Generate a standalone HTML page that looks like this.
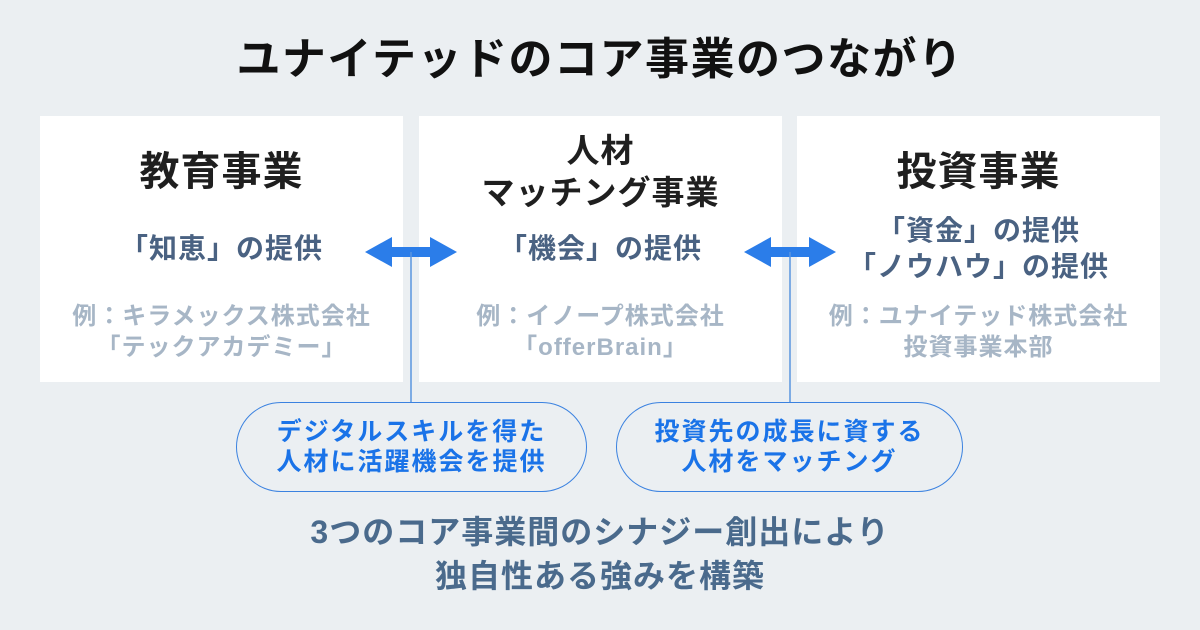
<!DOCTYPE html>
<html><head><meta charset="utf-8"><style>
*{margin:0;padding:0;box-sizing:border-box}
body{width:1200px;height:630px;background:#ebeff2;position:relative;overflow:hidden;font-family:"Liberation Sans","Noto Sans CJK JP",sans-serif;font-weight:bold}
.a{position:absolute;text-align:center}
.box{position:absolute;top:116px;height:266px;background:#fff}
.h{color:#1f1f1f;font-size:40px;line-height:44px;letter-spacing:1px}
.s{color:#4a6282;font-size:28px;line-height:36px;letter-spacing:1px}
.g{color:#a7b6c6;font-size:24px;line-height:31px;letter-spacing:1px}
.pill{position:absolute;top:402px;height:90px;border:1.5px solid #3b82e0;border-radius:45px;color:#1a73e8;font-size:25px;line-height:30px;letter-spacing:2px;text-align:center;padding-top:14px}
</style></head><body>
<div class="a" style="left:0;width:1200px;top:33px;font-size:44px;line-height:54px;letter-spacing:1.5px;color:#111">ユナイテッドのコア事業のつながり</div>
<div class="box" style="left:40px;width:363px"></div>
<div class="box" style="left:419px;width:363px"></div>
<div class="box" style="left:797px;width:363px"></div>

<div class="a h" style="left:40px;width:363px;top:150px">教育事業</div>
<div class="a s" style="left:40px;width:363px;top:231px">「知恵」の提供</div>
<div class="a g" style="left:40px;width:363px;top:301px">例：キラメックス株式会社<br>「テックアカデミー」</div>

<div class="a h" style="left:419px;width:363px;top:130px;font-size:33px;line-height:42px">人材<br>マッチング事業</div>
<div class="a s" style="left:419px;width:363px;top:231px">「機会」の提供</div>
<div class="a g" style="left:419px;width:363px;top:301px">例：イノープ株式会社<br>「offerBrain」</div>

<div class="a h" style="left:797px;width:363px;top:150px">投資事業</div>
<div class="a s" style="left:797px;width:363px;top:213px">「資金」の提供<br>「ノウハウ」の提供</div>
<div class="a g" style="left:797px;width:363px;top:301px">例：ユナイテッド株式会社<br>投資事業本部</div>

<svg class="a" style="left:0;top:0" width="1200" height="630">
<g fill="#2b7de9">
<polygon points="365,252 392,237 392,247 430,247 430,237 457,252 430,267 430,257 392,257 392,267"/>
<polygon points="744,252 771,237 771,247 809,247 809,237 836,252 809,267 809,257 771,257 771,267"/>
</g>
<line x1="411" y1="252" x2="411" y2="403" stroke="#5b95e0" stroke-width="1.5"/>
<line x1="790" y1="252" x2="790" y2="403" stroke="#5b95e0" stroke-width="1.5"/>
</svg>

<div class="pill" style="left:236px;width:351px">デジタルスキルを得た<br>人材に活躍機会を提供</div>
<div class="pill" style="left:616px;width:347px">投資先の成長に資する<br>人材をマッチング</div>

<div class="a" style="left:0;width:1200px;top:510px;font-size:32px;line-height:44px;letter-spacing:1px;color:#4a6a8c">3つのコア事業間のシナジー創出により<br>独自性ある強みを構築</div>
</body></html>
